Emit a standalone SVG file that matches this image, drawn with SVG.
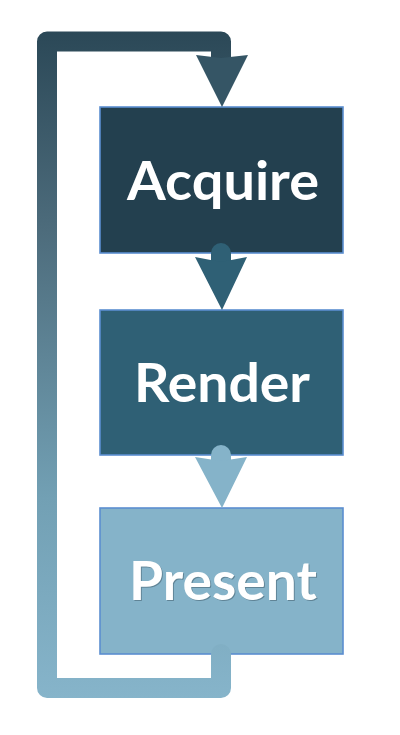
<svg xmlns="http://www.w3.org/2000/svg" width="400" height="735" viewBox="0 0 400 735">
  <defs>
    <linearGradient id="loopGrad" gradientUnits="userSpaceOnUse" x1="0" y1="31" x2="0" y2="698">
      <stop offset="0" stop-color="#2B4857"/>
      <stop offset="0.3" stop-color="#4D6C7C"/>
      <stop offset="0.7" stop-color="#72A0B4"/>
      <stop offset="1" stop-color="#86B4CA"/>
    </linearGradient>
  </defs>
  <style>
    .box { stroke: #5B8ED0; stroke-width: 1.6; }
    .label { font-family: Lato, "Open Sans", "Liberation Sans", sans-serif; font-weight: bold; font-size: 53px; fill: #FFFFFF; text-anchor: middle; }
    .shadow { fill: #1C2E3A; opacity: 0.35; }
    .shaft { fill: none; stroke-width: 20; stroke-linecap: round; stroke-linejoin: round; }
  </style>
  <g id="acquire">
    <rect class="box" x="100" y="107" width="243" height="146" fill="#23404F"/>
    <text class="label" x="223" y="200" textLength="192" lengthAdjust="spacingAndGlyphs">Acquire</text>
  </g>
  <g id="render">
    <rect class="box" x="100" y="310" width="243" height="145" fill="#2F6075"/>
    <text class="label" x="222" y="402" textLength="176" lengthAdjust="spacingAndGlyphs">Render</text>
  </g>
  <g id="present">
    <rect class="box" x="100" y="508" width="243" height="146" fill="#85B3C9"/>
    <text class="label shadow" x="224" y="601" textLength="188" lengthAdjust="spacingAndGlyphs">Present</text>
    <text class="label" x="223" y="600" textLength="188" lengthAdjust="spacingAndGlyphs">Present</text>
  </g>
  <g id="connectors">
    <g id="loop">
      <path class="shaft" d="M221,654 L221,688 L47,688 L47,41.5 L221,41.5 L221,60" stroke="url(#loopGrad)"/>
      <path d="M196,55 L221,58 L248,55 L222,107 Z" fill="#355565"/>
    </g>
    <g id="acquire-render">
      <path class="shaft" d="M221,253 L221,262" stroke="#2F6075"/>
      <path d="M195,257 L221,262 L247,257 L222,310 Z" fill="#2F6075"/>
    </g>
    <g id="render-present">
      <path class="shaft" d="M221,455 L221,462" stroke="#85B3C9"/>
      <path d="M195,457 L221,461 L247,457 L222,508 Z" fill="#85B3C9"/>
    </g>
  </g>
</svg>
